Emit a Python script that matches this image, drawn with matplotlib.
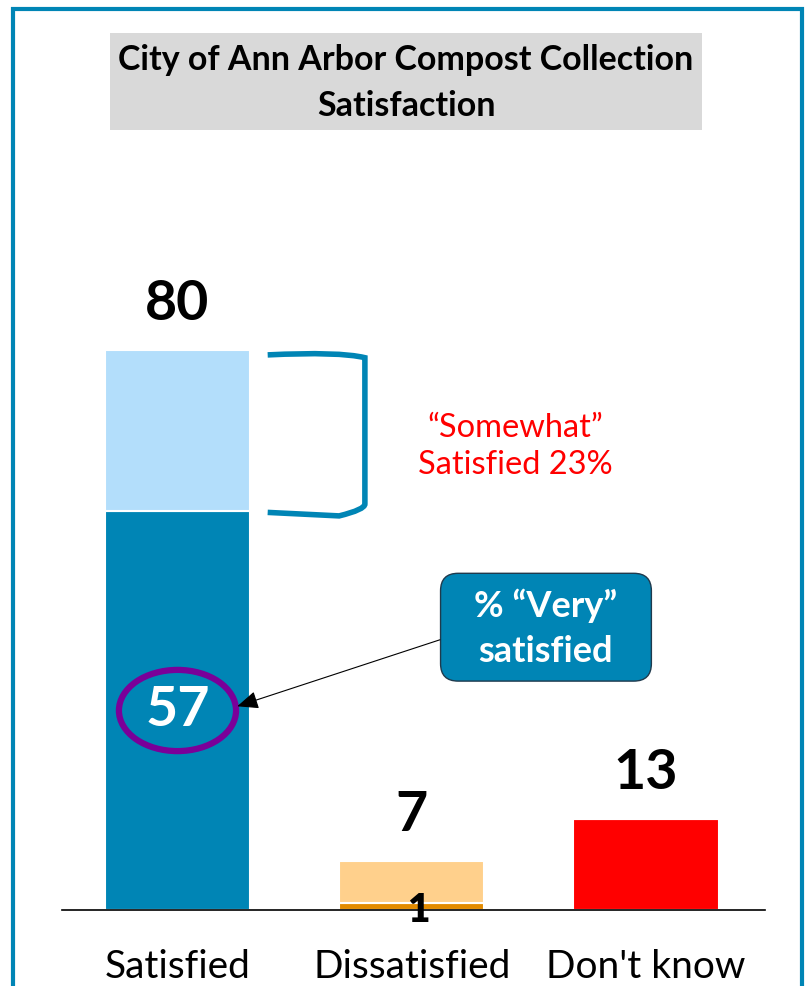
import matplotlib.pyplot as plt
from matplotlib.patches import Ellipse, FancyBboxPatch, Rectangle, PathPatch
from matplotlib.path import Path

categories = ["Satisfied", "Dissatisfied", "Don't know"]
strong = [57, 1, 13]       # "very" satisfied / "very" dissatisfied / don't know
somewhat = [23, 6, 0]
totals = [80, 7, 13]

dark_colors = ["#0085B5", "#E38B00", "#FF0000"]
light_colors = ["#B3DEFB", "#FFD08C", "#FF0000"]

plt.rcParams['font.family'] = ['Lato', 'DejaVu Sans']

fig = plt.figure(figsize=(8.08, 9.86), dpi=100)
W, H = 808, 986

# frame around the slide
fig.patches.append(Rectangle((13 / W, -0.05), 789 / W, 1.05 - 9 / H, transform=fig.transFigure,
                             fill=False, edgecolor="#0085B5", linewidth=3))

# title box
fig.patches.append(Rectangle((110 / W, 1 - 130 / H), 592 / W, 97 / H, transform=fig.transFigure,
                             facecolor="#D9D9D9", edgecolor="none"))
fig.text(406 / W, 1 - 83 / H, "City of Ann Arbor Compost Collection\nSatisfaction",
         ha="center", va="center", fontsize=24.5, fontweight="bold", linespacing=1.5)

ax = fig.add_axes([62 / W, 76 / H, 703 / W, 880 / H])
ax.set_xlim(-0.493, 2.508)
ax.set_ylim(0, 880 / 7)
ax.patch.set_alpha(0)

x = range(len(categories))
ax.bar(x, strong, width=0.62, color=dark_colors, edgecolor="white", linewidth=1.5)
ax.bar(x, somewhat, width=0.62, bottom=strong, color=light_colors, edgecolor="white", linewidth=1.5)

for s in ["top", "right", "left"]:
    ax.spines[s].set_visible(False)
ax.spines["bottom"].set_linewidth(1.2)
ax.set_yticks([])
ax.set_xticks(list(x))
ax.set_xticklabels(categories, fontsize=28)
ax.tick_params(axis="x", length=0, pad=28)

# totals on top
for i, t in enumerate(totals):
    ax.text(i, t + 3, str(t), ha="center", va="bottom", fontsize=40, fontweight="bold")

# inner labels
ax.text(0, strong[0] / 2, str(strong[0]), ha="center", va="center", fontsize=40,
        fontweight="bold", color="white")
ax.text(1.03, 0, str(strong[1]), ha="center", va="center", fontsize=28, fontweight="heavy")

# purple ring round 57
ax.add_patch(Ellipse((0, strong[0] / 2), 0.5, 11.6, fill=False, edgecolor="#7A0099", linewidth=4.5))

# bracket for the "somewhat" share
top, bot = totals[0] - 0.3, strong[0] - 0.6
xl, xr = 0.385, 0.81
verts = [(xl, top - 0.4), (xr - 0.12, top + 0.1), (xr - 0.01, top - 0.8), (xr - 0.01, top - 1.6),
         (xr - 0.01, bot + 1.6), (xr - 0.01, bot + 0.8), (xr - 0.12, bot - 0.1), (xl, bot + 0.4)]
codes = [Path.MOVETO, Path.CURVE3, Path.CURVE3, Path.LINETO,
         Path.LINETO, Path.CURVE3, Path.CURVE3, Path.LINETO]
ax.add_patch(PathPatch(Path(verts, codes), fill=False, edgecolor="#0085B5", linewidth=4,
                       capstyle="butt"))
ax.text(1.44, 66.2, "\u201cSomewhat\u201d\nSatisfied 23%", ha="center", va="center",
        fontsize=23.5, color="#FF0000", linespacing=1.32)

# callout
ax.add_patch(FancyBboxPatch((1.573 - 0.45, 40.4 - 7.7), 0.9, 15.4,
                            boxstyle="round,pad=0,rounding_size=0.075", mutation_aspect=33.4,
                            facecolor="#0085B5", edgecolor="#1F3A4D", linewidth=1))
ax.text(1.573, 40.2, "% \u201cVery\u201d\nsatisfied", ha="center", va="center", fontsize=26,
        fontweight="bold", color="white", linespacing=1.45)
ax.annotate("", xy=(0.255, 29.1), xytext=(1.12, 38.6),
            arrowprops=dict(arrowstyle="-|>,head_length=1.3,head_width=0.55", color="black",
                            linewidth=0.8, shrinkA=0, shrinkB=0))

fig.savefig("out.png", dpi=100)
